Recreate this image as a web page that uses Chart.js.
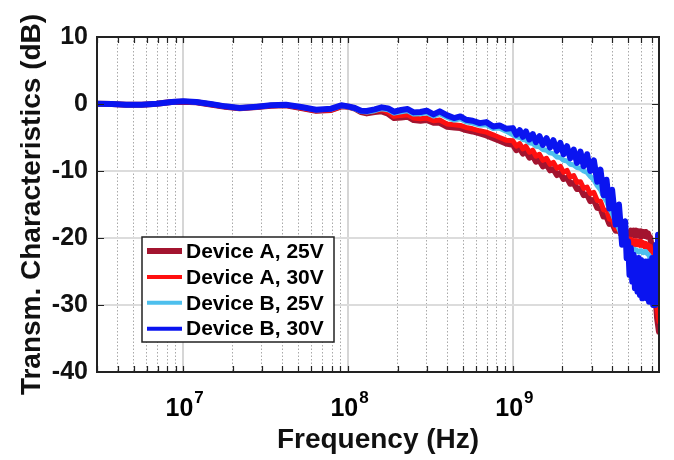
<!DOCTYPE html>
<html>
<head>
<meta charset="utf-8">
<script src="https://cdn.jsdelivr.net/npm/chart.js@4.4.1/dist/chart.umd.min.js"></script>
<style>
  html, body { margin: 0; padding: 0; background: #ffffff; }
  #wrap { width: 674px; height: 460px; position: relative; }
</style>
</head>
<body>
<div id="wrap"><canvas id="chart" width="674" height="460"></canvas></div>
<script>
// Measurement frequencies (Hz)
const freqHz = [
  3.0e6, 3.7e6, 4.5e6, 5.6e6, 6.9e6, 8.5e6, 1.0e7, 1.2e7, 1.5e7, 1.8e7,
  2.2e7, 2.8e7, 3.4e7, 4.2e7, 5.2e7, 6.4e7, 7.9e7, 9.1e7, 1.0e8,
  1.1e8, 1.2e8, 1.3e8, 1.45e8, 1.6e8, 1.75e8, 1.9e8, 2.1e8, 2.3e8, 2.5e8,
  2.75e8, 3.0e8, 3.3e8, 3.6e8, 4.0e8, 4.4e8, 4.8e8, 5.2e8, 5.7e8, 6.3e8,
  6.9e8, 7.6e8, 8.3e8, 9.1e8,
  1.0e9, 1.05e9, 1.1e9, 1.15e9, 1.2e9, 1.26e9, 1.32e9, 1.38e9, 1.45e9, 1.52e9,
  1.6e9, 1.68e9, 1.76e9, 1.85e9, 1.94e9, 2.03e9, 2.13e9, 2.23e9, 2.34e9, 2.45e9,
  2.57e9, 2.69e9, 2.82e9, 2.95e9, 3.1e9, 3.25e9, 3.4e9, 3.55e9, 3.7e9, 3.85e9,
  4.0e9, 4.2e9, 4.4e9, 4.6e9, 4.8e9,
  4.9e9, 5.0e9, 5.1e9, 5.2e9, 5.3e9, 5.4e9, 5.5e9, 5.6e9, 5.7e9, 5.8e9,
  5.9e9, 6.0e9, 6.1e9, 6.2e9, 6.3e9, 6.4e9, 6.5e9, 6.6e9, 6.7e9, 6.8e9,
  6.9e9, 7.0e9, 7.1e9, 7.2e9, 7.3e9, 7.4e9, 7.5e9, 7.6e9, 7.7e9
];

// Transmission (dB), Device A at 25 V
const deviceA25V = [
  0.05, 0.0, -0.1, -0.1, 0.05, 0.3, 0.35, 0.25, -0.1, -0.4,
  -0.65, -0.45, -0.25, -0.2, -0.6, -1.0, -0.9, -0.35, -0.4,
  -0.7, -1.2, -1.4, -1.2, -1.1, -1.45, -2.1, -2.0, -1.9, -2.4,
  -2.5, -2.4, -2.8, -2.8, -3.4, -3.5, -3.6, -3.9, -4.1, -4.4,
  -4.7, -5.1, -5.5, -5.9,
  -6.1, -6.9, -6.6, -7.4, -7.1, -8.0, -7.7, -8.6, -8.4, -9.3,
  -9.0, -9.9, -9.7, -10.6, -10.3, -11.2, -11.0, -11.9, -11.8, -12.7,
  -12.6, -13.6, -13.5, -14.5, -14.3, -15.5, -15.6, -16.8, -16.8, -17.9,
  -17.8, -18.9, -18.9, -19.6, -19.2,
  -19.8, -19.3, -19.7, -18.9, -19.5, -18.9, -19.6, -18.9, -19.6, -19.0,
  -19.7, -19.0, -19.7, -19.1, -19.7, -19.1, -19.8, -19.3, -19.9, -19.9,
  -20.8, -22.0, -23.5, -26.0, -28.0, -30.0, -32.0, -33.0, -34.0
];

// Transmission (dB), Device A at 30 V
const deviceA30V = [
  0.05, 0.0, -0.1, -0.1, 0.05, 0.3, 0.35, 0.25, -0.1, -0.4,
  -0.65, -0.45, -0.25, -0.2, -0.6, -1.0, -0.9, -0.35, -0.4,
  -0.6, -1.1, -1.2, -1.0, -0.85, -1.2, -1.85, -1.7, -1.6, -2.1,
  -2.2, -2.1, -2.5, -2.4, -3.0, -3.1, -3.2, -3.5, -3.7, -4.0,
  -4.2, -4.6, -5.0, -5.4,
  -5.5, -6.3, -5.9, -6.7, -6.3, -7.2, -6.9, -7.8, -7.5, -8.4,
  -8.1, -9.0, -8.7, -9.6, -9.3, -10.2, -9.9, -10.9, -10.7, -11.7,
  -11.6, -12.6, -12.4, -13.4, -13.2, -14.4, -14.5, -15.8, -15.9, -17.2,
  -17.2, -18.6, -18.7, -19.9, -19.8,
  -20.5, -20.1, -20.8, -20.2, -20.9, -20.4, -21.0, -20.4, -21.0, -20.5,
  -21.1, -20.5, -21.1, -20.7, -21.3, -20.8, -21.4, -21.0, -21.6, -21.2,
  -22.0, -23.0, -24.0, -25.5, -27.0, -29.0, -30.5, -31.5, -32.5
];

// Transmission (dB), Device B at 25 V
const deviceB25V = [
  0.05, 0.0, -0.1, -0.1, 0.05, 0.3, 0.4, 0.3, -0.05, -0.35,
  -0.6, -0.4, -0.2, -0.1, -0.5, -0.9, -0.75, -0.25, -0.4,
  -0.7, -1.1, -1.2, -1.0, -0.7, -0.85, -1.35, -1.15, -1.0, -1.5,
  -1.45, -1.3, -1.8, -1.45, -2.0, -2.4, -2.2, -2.65, -2.85, -3.15,
  -3.1, -3.65, -3.6, -4.05,
  -4.6, -4.9, -5.0, -5.3, -5.4, -5.8, -5.9, -6.3, -6.4, -6.8,
  -6.9, -7.3, -7.4, -7.9, -8.0, -8.4, -8.5, -9.0, -9.1, -9.5,
  -9.6, -10.0, -10.2, -10.8, -11.3, -12.2, -12.8, -13.8, -14.5, -15.6,
  -16.3, -17.6, -18.6, -19.8, -20.6,
  -21.0, -21.4, -21.5, -21.6, -21.8, -21.9, -21.7, -21.8, -22.0, -22.1,
  -21.9, -21.9, -22.1, -22.2, -22.0, -22.0, -22.3, -22.4, -22.6, -23.0,
  -23.6, -24.5, -25.0, -25.5, -26.0, -26.5, -25.5, -25.0, -26.0
];

// Transmission (dB), Device B at 30 V
const deviceB30V = [
  0.05, 0.0, -0.1, -0.1, 0.05, 0.3, 0.4, 0.3, -0.05, -0.35,
  -0.6, -0.4, -0.2, -0.1, -0.45, -0.85, -0.7, -0.2, -0.35,
  -0.6, -1.0, -1.05, -0.8, -0.5, -0.65, -1.15, -0.9, -0.75, -1.25,
  -1.2, -1.0, -1.55, -1.1, -1.7, -2.1, -1.85, -2.35, -2.5, -2.85,
  -2.7, -3.35, -3.2, -3.7,
  -3.6, -4.6, -3.9, -4.9, -4.1, -5.3, -4.5, -5.7, -4.8, -6.1,
  -5.1, -6.5, -5.4, -7.0, -5.8, -7.5, -6.3, -8.1, -6.8, -8.8,
  -7.1, -9.3, -7.5, -10.0, -8.4, -11.6, -9.8, -13.6, -11.3, -15.6,
  -12.8, -18.0, -15.0, -21.0, -17.5,
  -23.0, -20.5, -25.5, -21.5, -26.5, -22.5, -27.5, -23.0, -28.0, -23.0,
  -28.5, -23.3, -29.0, -23.5, -28.5, -23.5, -29.0, -23.5, -29.5, -23.5,
  -29.5, -23.0, -30.0, -23.0, -30.0, -21.0, -29.5, -19.5, -29.0
];

const seriesLabels = ['Device A, 25V', 'Device A, 30V', 'Device B, 25V', 'Device B, 30V'];
const seriesColors = ['#a3142f', '#ff1010', '#4dbfed', '#0a14f0'];
const seriesWidths = [6, 5, 5, 6];
const legendWidths = [6, 4, 4, 4];

// Axis limits and labelled ticks
const xMin = 3e6, xMax = 7.7e9;
const xDecades = [1e7, 1e8, 1e9];
const yMin = -40, yMax = 10, yStep = 10;

const FONT = '"Liberation Sans", Arial, Helvetica, sans-serif';

function isDecade(v) {
  if (!v) return false;
  const l = Math.log10(v);
  return Math.abs(l - Math.round(l)) < 1e-9;
}

const seriesValues = [deviceA25V, deviceA30V, deviceB25V, deviceB30V];
const datasets = seriesValues.map((vals, i) => ({
  label: seriesLabels[i],
  data: freqHz.map((f, k) => ({ x: f, y: vals[k] })),
  borderColor: seriesColors[i],
  backgroundColor: seriesColors[i],
  borderWidth: seriesWidths[i],
  pointRadius: 0,
  tension: 0,
  borderJoinStyle: 'round',
  borderCapStyle: 'round',
  order: 4 - i,
  clip: 0
}));

// Box, inward ticks, superscript decade labels and the legend
const axisDecor = {
  id: 'axisDecor',
  afterDatasetsDraw(chart) {
    const { ctx, chartArea: a, scales: { x, y } } = chart;
    ctx.save();
    ctx.strokeStyle = '#222';
    ctx.lineWidth = 1.2;
    ctx.beginPath();
    x.ticks.forEach(t => {
      const px = Math.round(x.getPixelForValue(t.value)) + 0.5;
      ctx.moveTo(px, a.bottom); ctx.lineTo(px, a.bottom - 6);
      ctx.moveTo(px, a.top); ctx.lineTo(px, a.top + 6);
    });
    y.ticks.forEach(t => {
      const py = Math.round(y.getPixelForValue(t.value)) + 0.5;
      ctx.moveTo(a.left, py); ctx.lineTo(a.left + 7, py);
      ctx.moveTo(a.right, py); ctx.lineTo(a.right - 7, py);
    });
    ctx.stroke();
    ctx.lineWidth = 2;
    ctx.strokeRect(a.left, a.top, a.right - a.left, a.bottom - a.top);
    ctx.restore();
  },
  afterDraw(chart) {
    const { ctx, chartArea: a, scales: { x } } = chart;
    ctx.save();
    ctx.fillStyle = '#000';
    ctx.textBaseline = 'alphabetic';
    ctx.textAlign = 'left';
    xDecades.forEach(v => {
      const px = x.getPixelForValue(v);
      const exp = String(Math.round(Math.log10(v)));
      ctx.font = 'bold 25px ' + FONT;
      const wBase = ctx.measureText('10').width;
      ctx.font = 'bold 17px ' + FONT;
      const wExp = ctx.measureText(exp).width;
      const start = px - (wBase + wExp) / 2 + 1;
      ctx.font = 'bold 25px ' + FONT;
      ctx.fillText('10', start, a.bottom + 44);
      ctx.font = 'bold 17px ' + FONT;
      ctx.fillText(exp, start + wBase + 1, a.bottom + 31);
    });

    // legend
    const lx = 142, ly = 237, lw = 192, lh = 105;
    ctx.fillStyle = '#fff';
    ctx.fillRect(lx, ly, lw, lh);
    ctx.strokeStyle = '#222';
    ctx.lineWidth = 1.5;
    ctx.strokeRect(lx, ly, lw, lh);
    ctx.font = 'bold 21px ' + FONT;
    ctx.textBaseline = 'middle';
    chart.data.datasets.forEach((ds, i) => {
      const cy = ly + 14 + i * 25.9;
      ctx.strokeStyle = ds.borderColor;
      ctx.lineWidth = legendWidths[i];
      ctx.beginPath();
      ctx.moveTo(lx + 5, cy);
      ctx.lineTo(lx + 40, cy);
      ctx.stroke();
      ctx.fillStyle = '#000';
      ctx.fillText(ds.label, lx + 44, cy + 1);
    });
    ctx.restore();
  }
};

new Chart(document.getElementById('chart'), {
  type: 'line',
  data: { datasets },
  options: {
    responsive: false,
    animation: false,
    devicePixelRatio: 1,
    layout: { padding: { left: 0, top: 37, right: 15, bottom: 0 } },
    plugins: { legend: { display: false }, tooltip: { enabled: false } },
    scales: {
      x: {
        type: 'logarithmic',
        position: 'bottom',
        min: xMin,
        max: xMax,
        afterBuildTicks(scale) {
          const ticks = [];
          for (let e = 6; e <= 9; e++) {
            for (let m = 1; m <= 9; m++) {
              const v = m * Math.pow(10, e);
              if (v >= xMin && v <= xMax) ticks.push({ value: v });
            }
          }
          scale.ticks = ticks;
        },
        afterFit(scale) { scale.height = 88; },
        ticks: { display: false, autoSkip: false },
        grid: {
          drawTicks: false,
          color: ctx => isDecade(ctx.tick && ctx.tick.value) ? '#d6d6d6' : '#a9a9a9',
          lineWidth: ctx => isDecade(ctx.tick && ctx.tick.value) ? 2 : 1
        },
        border: {
          display: false,
          dash: ctx => isDecade(ctx.tick && ctx.tick.value) ? [] : [1.5, 2]
        },
        title: {
          display: true,
          text: 'Frequency (Hz)',
          color: '#111',
          font: { family: FONT, size: 28, weight: 'bold' },
          padding: { top: 0, bottom: 3 }
        }
      },
      y: {
        type: 'linear',
        position: 'left',
        min: yMin,
        max: yMax,
        afterFit(scale) { scale.width = 97; },
        ticks: {
          stepSize: yStep,
          color: '#111',
          padding: 9,
          font: { family: FONT, size: 25, weight: 'bold' }
        },
        grid: { drawTicks: false, color: '#dcdcdc', lineWidth: 2 },
        border: { display: false },
        title: {
          display: true,
          text: 'Transm. Characteristics (dB)',
          color: '#111',
          font: { family: FONT, size: 28, weight: 'bold' },
          padding: { top: 15, bottom: 0 }
        }
      }
    }
  },
  plugins: [axisDecor]
});
</script>
</body>
</html>
